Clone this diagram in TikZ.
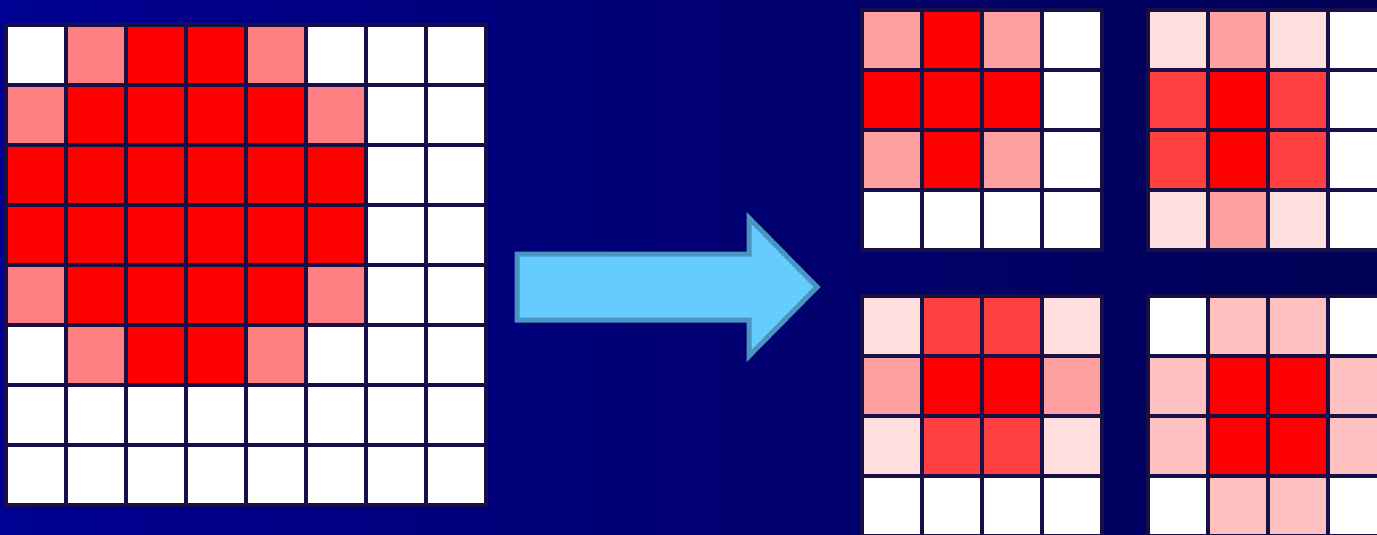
\documentclass[tikz,border=0pt]{standalone}
\usepackage{tikz}
\definecolor{cW}{RGB}{255,255,255}
\definecolor{cP}{RGB}{255,128,128}
\definecolor{cR}{RGB}{255,0,0}
\definecolor{cA}{RGB}{255,160,160}
\definecolor{cL}{RGB}{255,222,222}
\definecolor{cM}{RGB}{255,64,64}
\definecolor{cB}{RGB}{255,192,192}
\definecolor{gridline}{RGB}{24,14,72}
\definecolor{bgleft}{RGB}{0,0,146}
\definecolor{bgright}{RGB}{0,0,84}
\definecolor{arrowfill}{RGB}{102,204,255}
\definecolor{arrowedge}{RGB}{74,148,192}
\tikzset{
  cellbox/.style={draw=gridline, line width=3.2pt},
  arrowshape/.style={draw=arrowedge, fill=arrowfill, line width=5pt, line join=miter},
}
% #1 = x0, #2 = y0, #3 = row lists
\newcommand{\pixgrid}[3]{%
  \foreach \rowlist [count=\j from 0] in {#3} {
    \foreach \c [count=\i from 0] in \rowlist {
      \draw[cellbox, fill=c\c] ({#1+60*\i},{#2+60*\j}) rectangle ++(60,60);
    }
  }%
}
\begin{document}
\begin{tikzpicture}[x=1pt,y=-1pt]
  \useasboundingbox (0,0) rectangle (1377,535);
  \shade[left color=bgleft, right color=bgright] (0,0) rectangle (1377,535);
  % large grid
  \pixgrid{6}{25}{{W,P,R,R,P,W,W,W},{P,R,R,R,R,P,W,W},{R,R,R,R,R,R,W,W},{R,R,R,R,R,R,W,W},{P,R,R,R,R,P,W,W},{W,P,R,R,P,W,W,W},{W,W,W,W,W,W,W,W},{W,W,W,W,W,W,W,W}}
  % top-left small grid
  \pixgrid{862}{10}{{A,R,A,W},{R,R,R,W},{A,R,A,W},{W,W,W,W}}
  % top-right small grid
  \pixgrid{1148}{10}{{L,A,L,W},{M,R,M,W},{M,R,M,W},{L,A,L,W}}
  % bottom-left small grid
  \pixgrid{862}{296}{{L,M,M,L},{A,R,R,A},{L,M,M,L},{W,W,W,W}}
  % bottom-right small grid
  \pixgrid{1148}{296}{{W,B,B,W},{B,R,R,B},{B,R,R,B},{W,B,B,W}}
  % arrow
  \coordinate (tip) at (817,287);
  \draw[arrowshape] (517,254) -- (749,254) -- (749,218) -- (tip) -- (749,356) -- (749,320) -- (517,320) -- cycle;
\end{tikzpicture}
\end{document}
